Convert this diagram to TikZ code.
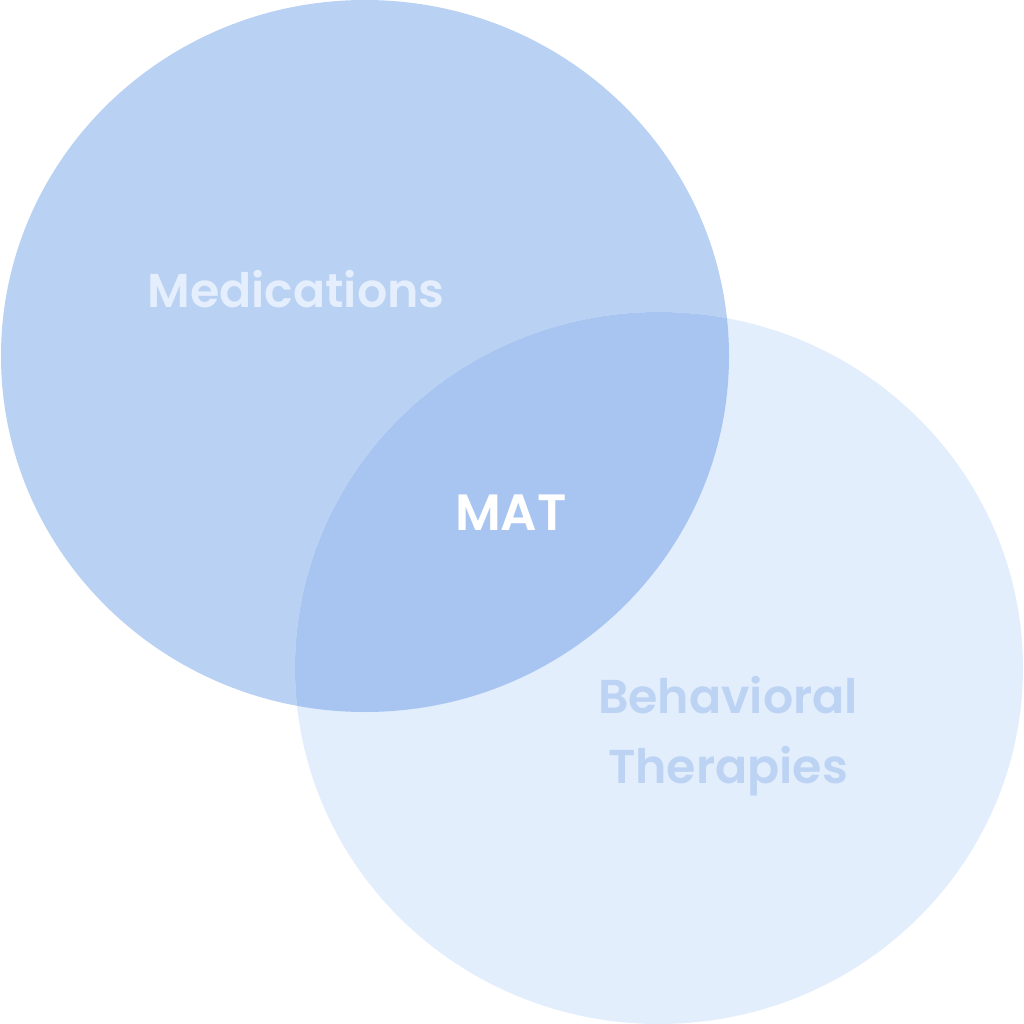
\documentclass[tikz,border=0pt]{standalone}
\usepackage{fontspec}
\setmainfont{Poppins}[BoldFont={Poppins SemiBold}]
\usepackage{xcolor}
\definecolor{medblue}{HTML}{B9D1F2}
\definecolor{therblue}{HTML}{E3EEFD}
\definecolor{matblue}{HTML}{A8C5F1}
\definecolor{medtext}{HTML}{E4EEFC}
\definecolor{thertext}{HTML}{BCD3F3}
\tikzset{
    label text/.style={font=\fontsize{13.5}{20}\selectfont\bfseries, align=center, inner sep=0pt}
}

\begin{document}
\begin{tikzpicture}[x=0.01cm, y=-0.01cm]
    % Page frame
    \useasboundingbox (0,0) rectangle (1024,1024);

    % Medications disc
    \fill[medblue] (365,356) ellipse [x radius=364, y radius=356]; % Upper left disc

    % Behavioral therapies disc
    \fill[therblue] (659,668) ellipse [x radius=364, y radius=356]; % Lower right disc

    % Overlap of the two discs
    \begin{scope}
        \clip (365,356) ellipse [x radius=364, y radius=356];
        \fill[matblue] (659,668) ellipse [x radius=364, y radius=356];
    \end{scope}

    % Labels
    \node[label text, text=medtext] (med) at (296,289) {Medications};
    \node[label text, font=\fontsize{14.5}{20}\selectfont\bfseries, text=white] (mat) at (511,513) {MAT};
    \node[label text, text=thertext] (ther) at (728,736) {Behavioral\\Therapies};

\end{tikzpicture}
\end{document}
